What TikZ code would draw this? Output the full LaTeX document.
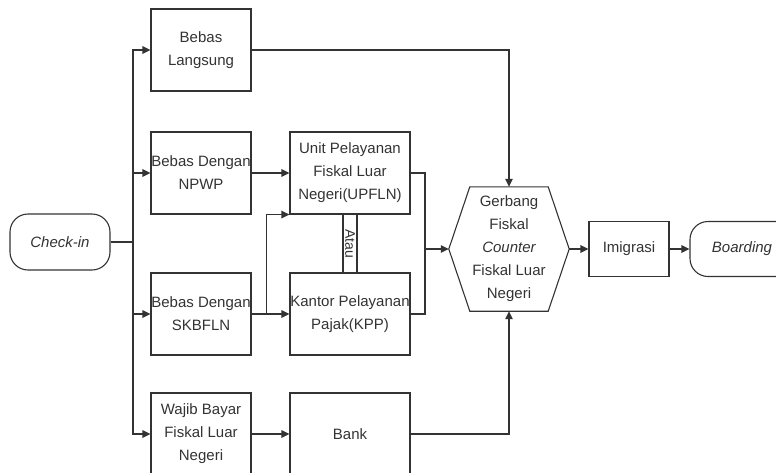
\documentclass[tikz,border=0pt]{standalone}
\usepackage{fontspec}
\setmainfont{Liberation Sans}
\usetikzlibrary{arrows.meta, calc}
\definecolor{ln}{HTML}{333333}

\begin{document}
\begin{tikzpicture}[
    x=1pt, y=-1pt,
    every node/.style={font=\fontsize{15}{23}\selectfont, text=ln, align=center},
    box/.style={draw=ln, line width=1.1pt, minimum width=100pt, minimum height=82pt, inner sep=0pt},
    wide/.style={box, minimum width=120pt},
    term/.style={draw=ln, line width=1.1pt, rounded corners=18pt, minimum height=56pt, inner sep=0pt},
    arr/.style={draw=ln, line width=1.1pt, -{Triangle[length=8pt, width=7.5pt]}},
    ln/.style={draw=ln, line width=1.1pt},
]
\useasboundingbox (0,0) rectangle (776,472);

% ---------------- start and trunk
\node[term, minimum width=100pt] (checkin) at (60,242) {\itshape Check-in};
\coordinate (trunk) at (133,242);
\draw[ln] (checkin.east) -- (trunk);

% ---------------- left column
\node[box] (langsung) at (201,50) {Bebas\\Langsung};
\node[box] (npwp) at (201,173) {Bebas Dengan\\NPWP};
\node[box] (skbfln) at (201,314) {Bebas Dengan\\SKBFLN};
\node[box] (wajib) at (201,434) {Wajib Bayar\\Fiskal Luar\\Negeri};
\foreach \n in {langsung, npwp, skbfln, wajib}{
    \draw[arr] (trunk) |- (\n.west);
}

% ---------------- middle column
\node[wide] (upfln) at (350,173) {Unit Pelayanan\\Fiskal Luar\\Negeri(UPFLN)};
\node[wide] (kpp) at (350,314) {Kantor Pelayanan\\Pajak(KPP)};
\node[wide] (bank) at (350,434) {Bank};
\node[draw=ln, line width=1.1pt, rotate=-90, minimum width=59pt, minimum height=14pt,
      inner sep=0pt, font=\fontsize{14}{14}\selectfont] (atau) at (350,243.5) {Atau};
\draw[arr] (npwp.east) -- (upfln.west);
\draw[arr] (skbfln.east) -- (kpp.west);
\draw[arr] (skbfln.east) -- ++(15,0) |- (upfln.south west);
\draw[arr] (wajib.east) -- (bank.west);

% ---------------- gate
\node[minimum width=120pt, minimum height=124pt, inner sep=0pt] (gate) at (509,249)
    {Gerbang\\Fiskal\\\itshape Counter\\Fiskal Luar\\Negeri};
\draw[ln] (gate.west) -- ($(gate.north west)+(21,0)$) -- ($(gate.north east)+(-21,0)$)
    -- (gate.east) -- ($(gate.south east)+(-21,0)$) -- ($(gate.south west)+(21,0)$) -- cycle;
\coordinate (merge) at (425,249);
\draw[ln] (upfln.east) -| (merge);
\draw[ln] (kpp.east) -| (merge);
\draw[arr] (merge) -- (gate.west);
\draw[arr] (langsung.east) -| (gate.north);
\draw[arr] (bank.east) -| (gate.south);

% ---------------- right: exit
\node[box, minimum width=80pt, minimum height=55pt] (imigrasi) at (629,249) {Imigrasi};
\node[term, minimum width=104pt, minimum height=55pt] (boarding) at (742,249) {\itshape Boarding};
\draw[arr] (gate.east) -- (imigrasi.west);
\draw[arr] (imigrasi.east) -- (boarding.west);

\end{tikzpicture}
\end{document}
